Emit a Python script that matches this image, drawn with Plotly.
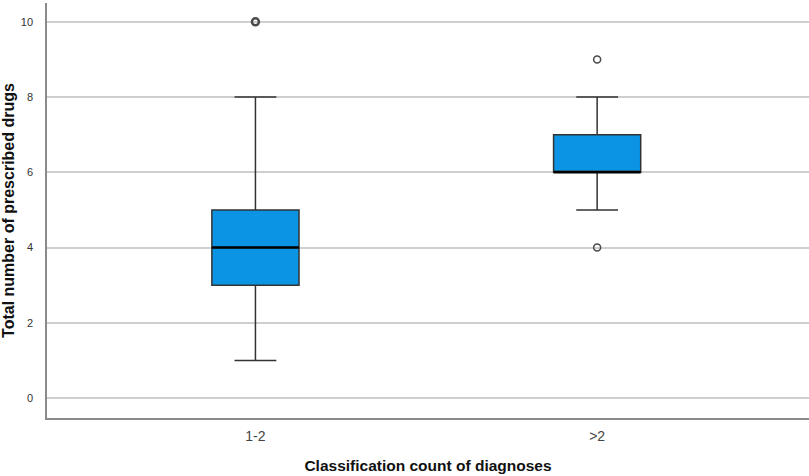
import plotly.graph_objects as go

# data
categories = ["1-2", ">2"]
lower_whisker = [1, 5]
q1_values = [3, 6]
medians = [4, 6]
q3_values = [5, 7]
upper_whisker = [8, 8]
outlier_x = ["1-2", ">2", ">2"]
outlier_y = [10, 9, 4]
outlier_weight = [2.4, 1.5, 1.5]  # the 10 looks like several stacked points

box_fill = "#0A94E3"
half_box = 0.1275

fig = go.Figure()
fig.add_trace(go.Box(
    x=categories,
    q1=q1_values,
    median=medians,
    q3=q3_values,
    lowerfence=lower_whisker,
    upperfence=upper_whisker,
    fillcolor=box_fill,
    line=dict(color="#333333", width=1.5),
    width=2 * half_box,
    whiskerwidth=0.48,
    boxpoints=False,
    hoverinfo="skip",
    showlegend=False,
))

# thicker median line drawn on top (SPSS style)
for idx, med in enumerate(medians):
    fig.add_trace(go.Scatter(
        x=[idx - half_box, idx + half_box], y=[med, med],
        mode="lines", line=dict(color="black", width=2.6),
        xaxis="x2", showlegend=False, hoverinfo="skip",
    ))

fig.add_trace(go.Scatter(
    x=outlier_x, y=outlier_y, mode="markers",
    marker=dict(symbol="circle-open", size=7, color="#4a4a4a",
                line=dict(width=outlier_weight)),
    showlegend=False, hoverinfo="skip",
))

fig.update_layout(
    width=809, height=476,
    margin=dict(l=47, r=0, t=3, b=58),
    plot_bgcolor="white", paper_bgcolor="white",
    font=dict(family="Liberation Sans, Arial", color="#333333"),
    xaxis=dict(
        type="category", range=[-0.61, 1.62],
        showgrid=False, zeroline=False,
        showline=True, linecolor="#8a8a8a", linewidth=1.5,
        ticks="", ticklabelstandoff=4,
        tickfont=dict(size=14, color="#444444"),
        automargin=False,
        title=dict(text="<b>Classification count of diagnoses</b>",
                   font=dict(size=15.5, color="#111111"), standoff=18),
    ),
    xaxis2=dict(range=[-0.61, 1.62], overlaying="x", visible=False),
    yaxis=dict(
        range=[-0.53, 10.5], tickvals=[0, 2, 4, 6, 8, 10],
        showgrid=True, gridcolor="#cfcfcf", gridwidth=1.5,
        zeroline=False,
        showline=True, linecolor="#8a8a8a", linewidth=1.5,
        ticks="", ticklabelstandoff=10,
        tickfont=dict(size=11, color="#333333"),
        automargin=False,
        title=dict(text="<b>Total number of prescribed drugs</b>",
                   font=dict(size=16, color="#111111"), standoff=6),
    ),
)

fig.write_html("out.html", config={"displayModeBar": False},
               post_script="document.body.style.margin='0';")
